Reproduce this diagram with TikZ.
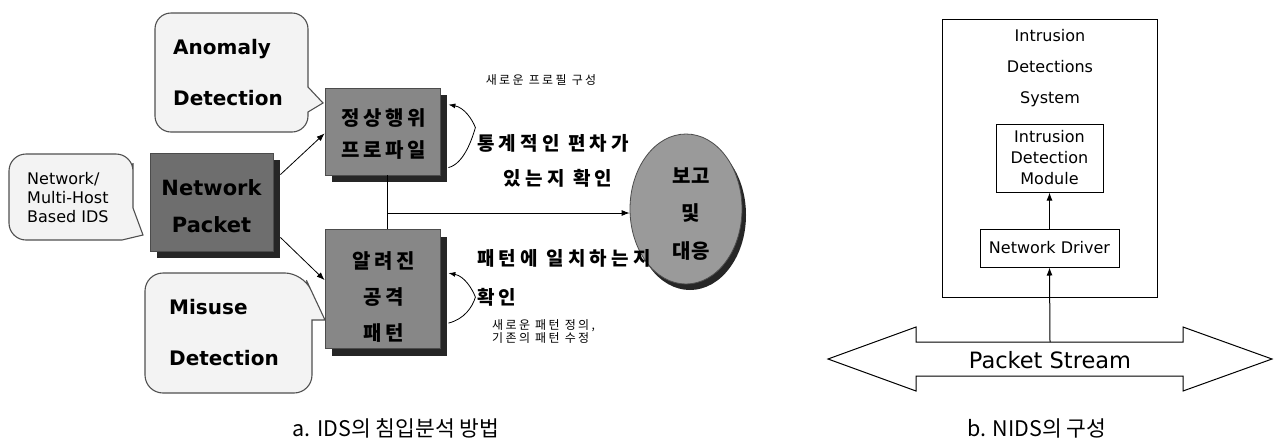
\documentclass[tikz,border=0pt]{standalone}
\usepackage{fontspec}
\setmainfont{DejaVu Sans}
\newfontfamily\kr{Noto Sans CJK KR}
\newfontfamily\krs[LetterSpace=22]{Noto Sans CJK KR}
\newfontfamily\krss[LetterSpace=20]{Noto Sans CJK KR}
\newfontfamily\krbox[LetterSpace=18]{Noto Sans CJK KR}
\usetikzlibrary{arrows.meta,shapes.geometric,shadows,calc}
\definecolor{bubblefill}{HTML}{F3F3F3}
\definecolor{bubbleline}{HTML}{505050}
\definecolor{boxgray}{HTML}{878787}
\definecolor{boxdark}{HTML}{6E6E6E}
\definecolor{ovalgray}{HTML}{9A9A9A}
\definecolor{shade}{HTML}{262626}
\begin{document}
\begin{tikzpicture}[x=1pt,y=-1pt,
  tip/.style={-{Latex[length=8pt,width=6pt]}},
  rtip/.style={{Latex[length=7pt,width=5pt]}-},
  bubble/.style={draw=bubbleline,line width=1.1pt,fill=bubblefill},
  graybox/.style={draw=black!70,line width=0.8pt,fill=boxgray,inner sep=0pt,
    drop shadow={shadow xshift=7pt,shadow yshift=-7pt,fill=shade,opacity=1}},
  plainbox/.style={draw=black,line width=1pt,fill=white,inner sep=0pt},
  bubtext/.style={font=\bfseries\fontsize{20}{51}\selectfont,align=left,inner sep=0pt,anchor=west},
  krboxtext/.style={font=\krbox\bfseries\fontsize{20}{32}\selectfont,align=center,inner sep=0pt},
  krlabel/.style={font=\krs\bfseries\fontsize{19}{24}\selectfont,inner sep=0pt},
  krsmall/.style={font=\krss\fontsize{12}{13.5}\selectfont,inner sep=0pt},
  entext/.style={font=\fontsize{16}{21}\selectfont,align=center,inner sep=0pt},
  caption/.style={font=\kr\fontsize{21.5}{24}\selectfont,inner sep=0pt}
]
\useasboundingbox (0,0) rectangle (1275,440);

% ---------- speech bubbles ----------
\draw[bubble] (155,70) [rounded corners=16pt] |- (308,13) -- (308,60) [sharp corners] -- (308,87) -- (323,103) -- (308,112) -- (308,114) [rounded corners=16pt] |- (155,132) -- cycle;
\node[bubtext] (anom) at (173,73) {Anomaly\\Detection};

\draw[bubble] (9,200) [rounded corners=17pt] |- (133,154) -- (133,180) [sharp corners] -- (133,208) -- (143,235) -- (122,240) -- (110,240) [rounded corners=17pt] -| (9,200) -- cycle;
\node[font=\fontsize{16}{19}\selectfont,align=left,inner sep=0pt,anchor=west] (hostids) at (27,198) {Network/\\Multi-Host\\Based IDS};

\draw[bubble] (145,330) [rounded corners=18pt] |- (303,273) -- (314,296.5) [sharp corners] -- (325,320) -- (312,320) -- (312,340) [rounded corners=18pt] |- (145,393) -- cycle;
\node[bubtext] (misuse) at (169,333) {Misuse\\Detection};

% ---------- grey boxes ----------
\node[graybox,fill=boxdark,minimum width=123pt,minimum height=98pt] (np) at (211.5,202) {};
\node[font=\bfseries\fontsize{21}{37}\selectfont,align=center,inner sep=0pt] (nptext) at (211.5,206) {Network\\Packet};

\node[graybox,minimum width=115pt,minimum height=87pt] (b1) at (382.5,131.5) {};
\node[krboxtext] (b1text) at (384,134) {정상행위\\프로파일};

\node[graybox,minimum width=115pt,minimum height=119pt] (b2) at (382.5,289) {};
\node[krboxtext,font=\krbox\bfseries\fontsize{20}{36}\selectfont] (b2text) at (384,297) {알려진\\공격\\패턴};

\node[ellipse,draw=black!70,line width=0.8pt,fill=ovalgray,minimum width=112pt,minimum height=150pt,inner sep=0pt,
  drop shadow={shadow xshift=4pt,shadow yshift=-6pt,fill=shade,opacity=1}] (oval) at (686,209) {};
\node[krboxtext,font=\kr\bfseries\fontsize{20}{37.5}\selectfont] (ovaltext) at (691,214) {보고\\및\\대응};

% ---------- connectors ----------
\draw[tip,line width=0.8pt] ($(np.north east)+(7,22)$) -- ($(b1.south west)+(0,-42)$);
\draw[tip,line width=0.8pt] ($(np.south east)+(7,-14)$) -- ($(b2.north west)+(0,51)$);
\coordinate (j) at (387,213);
\draw[line width=0.8pt] (j |- b1.south) -- (j |- b2.north);
\draw[tip,line width=0.8pt] (j) -- (j -| oval.west);

\draw[rtip,line width=0.8pt] ($(b1.north east)+(8,17)$) .. controls ($(b1.north east)+(24,20)$) and ($(b1.north east)+(32,32)$) .. ($(b1.north east)+(35,40)$)
  .. controls ($(b1.north east)+(32,50)$) and ($(b1.north east)+(24,76)$) .. ($(b1.north east)+(8,80)$);
\draw[rtip,line width=0.8pt] ($(b2.north east)+(8,44)$) .. controls ($(b2.north east)+(24,47)$) and ($(b2.north east)+(32,60)$) .. ($(b2.north east)+(35,68)$)
  .. controls ($(b2.north east)+(32,78)$) and ($(b2.north east)+(24,90)$) .. ($(b2.north east)+(8,94)$);

% ---------- labels ----------
\node[krsmall] (newprof) at (541,80) {새로운 프로필 구성};
\node[krlabel,anchor=west] (stat1) at (477,143) {통계적인 편차가};
\node[krlabel] (stat2) at (558,178) {있는지 확인};
\node[krlabel,anchor=west] (pat1) at (477,258) {패턴에 일치하는지};
\node[krlabel,anchor=west] (pat2) at (477,297) {확인};
\node[krsmall,align=left,anchor=west] (newpat) at (492,331.5) {새로운 패턴 정의,\\기존의 패턴 수정};

\node[caption] (capa) at (396,428) {a. IDS의 침입분석 방법};

% ---------- right panel ----------
\node[plainbox,minimum width=215pt,minimum height=278pt] (sys) at (1049.5,158) {};
\node[entext,font=\fontsize{16}{31}\selectfont] (systext) at (1050,68) {Intrusion\\Detections\\System};
\node[plainbox,minimum width=107pt,minimum height=68pt,entext] (idm) at (1049.5,158) {Intrusion\\Detection\\Module};
\node[plainbox,minimum width=139pt,minimum height=38pt,entext] (nd) at (1049.5,248) {Network Driver};

\draw[line width=1pt,fill=white] (828,359) -- (916,327) -- (916,342) -- (1183,342) -- (1183,327) -- (1272,359)
  -- (1183,391) -- (1183,376) -- (916,376) -- (916,391) -- cycle;
\node[font=\fontsize{22.5}{24}\selectfont,inner sep=0pt] (pstext) at (1050,360) {Packet Stream};
\coordinate (ps) at (1050,342);

\draw[tip,line width=1pt] (ps) -- (nd.south);
\draw[tip,line width=1pt] (nd.north) -- (idm.south);

\node[caption] (capb) at (1037,428) {b. NIDS의 구성};
\end{tikzpicture}
\end{document}
